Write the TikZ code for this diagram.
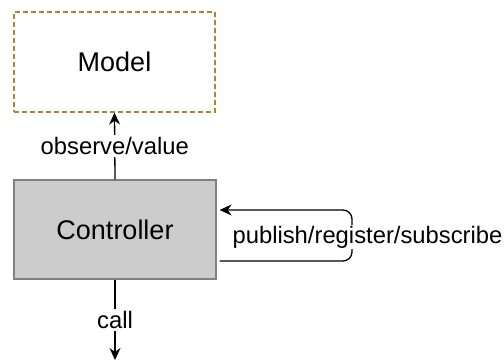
\documentclass[tikz,border=0pt]{standalone}
\usepackage{fontspec}
\setmainfont{Liberation Sans}
\usetikzlibrary{arrows.meta,calc}
\definecolor{modelborder}{HTML}{B08530}
\definecolor{ctrlfill}{HTML}{CCCCCC}
\definecolor{ctrlborder}{HTML}{808080}
\tikzset{
  box/.style={rectangle, inner sep=0pt, font=\fontsize{27}{31}\selectfont, line width=1.3pt},
  lbl/.style={fill=white, inner sep=2pt, font=\fontsize{23.8}{28}\selectfont},
  conn/.style={line width=1.3pt, -{Stealth[length=12pt,width=11pt,inset=4pt]}},
}
\begin{document}
\begin{tikzpicture}[x=1pt,y=1pt]
  \useasboundingbox (0,0) rectangle (504,362);
  % boxes
  \node[box, draw=modelborder, dash pattern=on 5pt off 3pt, minimum width=201pt, minimum height=100pt] (model) at (114.5,300) {Model};
  \node[box, draw=ctrlborder, fill=ctrlfill, minimum width=202pt, minimum height=99pt] (ctrl) at (115,132.5) {Controller};
  \coordinate (callend) at (115,2);
  % connectors
  \draw[conn] (ctrl.north) -- node[lbl] {observe/value} (model.south);
  \draw[conn] (ctrl.south) -- node[lbl, pos=0.5] {call} (callend);
  \draw[conn, rounded corners=9pt] ($(ctrl.east)+(3,-31.5)$) -- (352,101) -- (352,152) -- ($(ctrl.east)+(3,19.5)$);
  \node[lbl, inner sep=1pt] (pub) at (367.5,125) {publish/register/subscribe};
\end{tikzpicture}
\end{document}
